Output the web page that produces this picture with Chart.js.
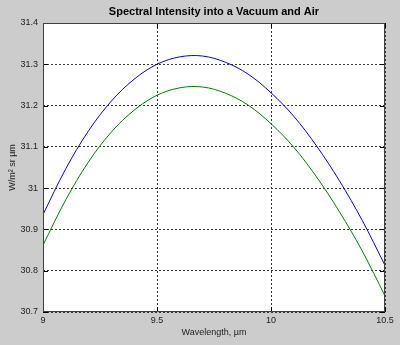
<!DOCTYPE html>
<html>
<head>
<meta charset="utf-8">
<script src="https://cdn.jsdelivr.net/npm/chart.js@4.4.1/dist/chart.umd.min.js"></script>
<style>
  html, body { margin: 0; padding: 0; background: #cccccc; }
  canvas { display: block; }
</style>
</head>
<body>
<canvas id="myChart" width="400" height="345"></canvas>
<script>
// values
const wavelength = [9.0, 9.1, 9.2, 9.3, 9.4, 9.5, 9.6, 9.7, 9.8, 9.9, 10.0, 10.1, 10.2, 10.3, 10.4, 10.5];
const vacuum = [30.936, 31.047, 31.139, 31.211, 31.264, 31.300, 31.318, 31.320, 31.305, 31.276, 31.231, 31.174, 31.102, 31.018, 30.922, 30.813];
const air = [30.862, 30.972, 31.064, 31.136, 31.189, 31.225, 31.243, 31.245, 31.230, 31.201, 31.156, 31.099, 31.027, 30.943, 30.848, 30.739];
const xTicks = [9, 9.5, 10, 10.5];
const yTicks = [30.7, 30.8, 30.9, 31, 31.1, 31.2, 31.3, 31.4];
const chartTitle = 'Spectral Intensity into a Vacuum and Air';

const ctx = document.getElementById('myChart');

// gray figure, white axes, box + inward ticks, title
const matlabLook = {
  id: 'matlabLook',
  beforeDraw(chart) {
    const c = chart.ctx, a = chart.chartArea;
    c.save();
    c.fillStyle = '#cccccc';
    c.fillRect(0, 0, chart.width, chart.height);
    c.fillStyle = '#ffffff';
    c.fillRect(a.left, a.top, a.right - a.left, a.bottom - a.top);
    c.restore();
  },
  afterDraw(chart) {
    const c = chart.ctx, a = chart.chartArea;
    const xs = chart.scales.x, ys = chart.scales.y;
    c.save();
    c.strokeStyle = '#000000';
    c.lineWidth = 1;
    c.beginPath();
    yTicks.forEach(v => {
      const y = Math.round(ys.getPixelForValue(v)) + 0.5;
      c.moveTo(a.left, y); c.lineTo(a.left + 5, y);
      c.moveTo(a.right - 5, y); c.lineTo(a.right, y);
    });
    xTicks.forEach(v => {
      const x = Math.round(xs.getPixelForValue(v)) + 0.5;
      c.moveTo(x, a.bottom); c.lineTo(x, a.bottom - 5);
      c.moveTo(x, a.top); c.lineTo(x, a.top + 5);
    });
    c.stroke();
    c.strokeStyle = '#404040';
    c.strokeRect(Math.round(a.left) + 0.5, Math.round(a.top) + 0.5,
      Math.round(a.right - a.left) - 1, Math.round(a.bottom - a.top) - 1);
    c.fillStyle = '#000000';
    c.font = 'bold 11px "Liberation Sans", Arial, sans-serif';
    c.textAlign = 'center';
    c.textBaseline = 'middle';
    c.fillText(chartTitle, (a.left + a.right) / 2, 12);
    c.restore();
  }
};

function fmt(v) {
  return String(Number(Number(v).toFixed(2)));
}

new Chart(ctx, {
  type: 'line',
  data: {
    datasets: [{
      label: 'Vacuum',
      data: wavelength.map((w, i) => ({ x: w, y: vacuum[i] })),
      borderColor: '#0000ff',
      borderWidth: 1,
      pointRadius: 0,
      tension: 0.35,
      fill: false
    }, {
      label: 'Air',
      data: wavelength.map((w, i) => ({ x: w, y: air[i] })),
      borderColor: '#008000',
      borderWidth: 1,
      pointRadius: 0,
      tension: 0.35,
      fill: false
    }]
  },
  options: {
    responsive: false,
    animation: false,
    layout: { padding: { top: 23, right: 15, bottom: 0, left: 0 } },
    plugins: {
      legend: { display: false },
      title: { display: false },
      tooltip: { enabled: false }
    },
    scales: {
      x: {
        type: 'linear',
        min: 9,
        max: 10.5,
        afterBuildTicks: s => { s.ticks = xTicks.map(v => ({ value: v })); },
        afterFit: s => { s.height = 33; },
        ticks: {
          callback: fmt,
          color: '#222',
          padding: 3,
          maxRotation: 0,
          font: { family: '"Liberation Sans", Arial, sans-serif', size: 9 }
        },
        grid: {
          color: '#333',
          drawTicks: false
        },
        border: { display: false, dash: [2, 2] },
        title: {
          display: true,
          text: 'Wavelength, µm',
          color: '#222',
          padding: { top: 0, bottom: 7 },
          font: { family: '"Liberation Sans", Arial, sans-serif', size: 9 }
        }
      },
      y: {
        type: 'linear',
        min: 30.7,
        max: 31.4,
        afterBuildTicks: s => { s.ticks = yTicks.map(v => ({ value: v })); },
        afterFit: s => { s.width = 43; },
        ticks: {
          callback: fmt,
          color: '#222',
          padding: 5,
          font: { family: '"Liberation Sans", Arial, sans-serif', size: 9 }
        },
        grid: {
          color: '#333',
          drawTicks: false
        },
        border: { display: false, dash: [2, 2] },
        title: {
          display: true,
          text: 'W/m² sr µm',
          color: '#222',
          padding: { top: 7, bottom: 0 },
          font: { family: '"Liberation Sans", Arial, sans-serif', size: 9 }
        }
      }
    }
  },
  plugins: [matlabLook]
});
</script>
</body>
</html>
